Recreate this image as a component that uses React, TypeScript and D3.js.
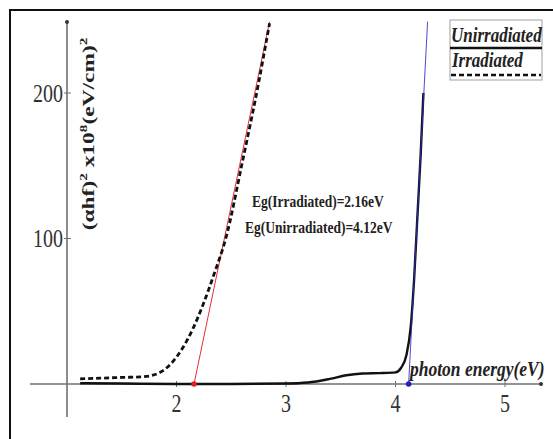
import * as d3 from 'd3'
import { useEffect, useRef } from 'react'

// Irradiated sample (dashed curve)
const irrEnergy = [1.12, 1.3, 1.5, 1.7, 1.85, 1.95, 2.05, 2.15, 2.25, 2.35, 2.45, 2.6, 2.75, 2.85]
const irrValue = [3.5, 4, 4.5, 5, 8, 14, 24, 38, 56, 77, 100, 152, 207, 248]

// Unirradiated sample (solid curve)
const unirrEnergy = [1.12, 1.5, 2.0, 2.5, 3.0, 3.2, 3.4, 3.55, 3.7, 3.85, 4.0, 4.05, 4.1, 4.14, 4.17, 4.2, 4.23, 4.255]
const unirrValue = [0.5, 0.3, 0, 0, 0.3, 1, 3.5, 6, 7.2, 7.5, 8, 11, 20, 40, 72, 115, 158, 200]

// tangent fits: [energy, value]
const irrFit: [number, number][] = [[2.16, 0], [2.85, 249]]
const unirrFit: [number, number][] = [[4.12, 0], [4.293, 249]]

const xTicks = [2, 3, 4, 5]
const yTicks = [100, 200]
const fitLabels = ['Eg(Irradiated)=2.16eV', 'Eg(Unirradiated)=4.12eV']
const legendLabels = ['Unirradiated', 'Irradiated']

const SERIF = '"Liberation Serif", "Times New Roman", serif'

export default function App() {
  const svgRef = useRef<SVGSVGElement>(null)

  useEffect(() => {
    if (!svgRef.current) return
    const svg = d3.select(svgRef.current)
    svg.selectAll('*').remove()

    const width = 553
    const height = 439

    const x = d3.scaleLinear().domain([1, 5]).range([67, 505])
    const y = d3.scaleLinear().domain([0, 248.8]).range([384, 22])

    svg.attr('width', width).attr('height', height)

    svg.append('rect').attr('width', width).attr('height', height).attr('fill', '#fff')

    // outer frame (runs off the picture at right and bottom)
    svg
      .append('rect')
      .attr('x', 10)
      .attr('y', 10)
      .attr('width', 700)
      .attr('height', 600)
      .attr('fill', 'none')
      .attr('stroke', '#111')
      .attr('stroke-width', 2)

    // stretched text helper
    const label = (
      tx: number,
      ty: number,
      txt: string,
      size: number,
      anchor: string,
      opts: { weight?: string; style?: string; sy?: number; fill?: string } = {}
    ) => {
      const g = svg.append('g').attr('transform', `translate(${tx},${ty}) scale(1,${opts.sy ?? 1.25})`)
      return g
        .append('text')
        .attr('text-anchor', anchor)
        .attr('dominant-baseline', 'central')
        .style('font-family', SERIF)
        .style('font-size', `${size}px`)
        .style('font-weight', opts.weight ?? 'normal')
        .style('font-style', opts.style ?? 'normal')
        .attr('fill', opts.fill ?? '#333')
        .text(txt)
    }

    // axes
    const axisColor = '#707070'
    svg
      .append('line')
      .attr('x1', 30)
      .attr('x2', 541)
      .attr('y1', y(0))
      .attr('y2', y(0))
      .attr('stroke', axisColor)
      .attr('stroke-width', 1.6)
    svg.append('circle').attr('cx', 541).attr('cy', y(0)).attr('r', 2).attr('fill', '#333')
    svg
      .append('line')
      .attr('x1', x(1))
      .attr('x2', x(1))
      .attr('y1', 22)
      .attr('y2', 417)
      .attr('stroke', axisColor)
      .attr('stroke-width', 1.6)
    svg.append('circle').attr('cx', x(1)).attr('cy', 22).attr('r', 2).attr('fill', '#333')

    xTicks.forEach(t => {
      svg
        .append('line')
        .attr('x1', x(t))
        .attr('x2', x(t))
        .attr('y1', y(0) - 3)
        .attr('y2', y(0) + 3)
        .attr('stroke', axisColor)
      label(x(t), 403, String(t), 20, 'middle', { sy: 1.3 })
    })
    yTicks.forEach(t => {
      svg
        .append('line')
        .attr('x1', x(1) - 3)
        .attr('x2', x(1) + 4)
        .attr('y1', y(t))
        .attr('y2', y(t))
        .attr('stroke', axisColor)
      label(63, y(t), String(t), 20, 'end', { sy: 1.3 })
    })

    // y axis title
    const yt = svg
      .append('text')
      .attr('transform', 'translate(94,134) rotate(-90) scale(1.38,1)')
      .attr('text-anchor', 'middle')
      .style('font-family', SERIF)
      .style('font-size', '17px')
      .style('font-weight', 'bold')
      .attr('fill', '#222')
    yt.append('tspan').text('(αhf)')
    yt.append('tspan').attr('dy', -7).style('font-size', '11px').text('2')
    yt.append('tspan').attr('dy', 7).text(' x10')
    yt.append('tspan').attr('dy', -7).style('font-size', '11px').text('8')
    yt.append('tspan').attr('dy', 7).text('(eV/cm)')
    yt.append('tspan').attr('dy', -7).style('font-size', '11px').text('2')

    // x axis title
    label(410, 369, 'photon energy(eV)', 17.5, 'start', { weight: 'bold', style: 'italic', sy: 1.15, fill: '#222' })

    const line = d3
      .line<[number, number]>()
      .x(d => x(d[0]))
      .y(d => y(d[1]))
      .curve(d3.curveMonotoneX)

    const unirrPts = unirrEnergy.map((e, i) => [e, unirrValue[i]] as [number, number])
    const irrPts = irrEnergy.map((e, i) => [e, irrValue[i]] as [number, number])

    // tangent fits
    const straight = d3
      .line<[number, number]>()
      .x(d => x(d[0]))
      .y(d => y(d[1]))
    svg
      .append('path')
      .attr('d', straight(irrFit))
      .attr('fill', 'none')
      .attr('stroke', '#e53030')
      .attr('stroke-width', 1)

    // unirradiated curve
    svg
      .append('path')
      .attr('d', line(unirrPts))
      .attr('fill', 'none')
      .attr('stroke', '#111')
      .attr('stroke-width', 2.4)

    svg
      .append('path')
      .attr('d', straight(unirrFit))
      .attr('fill', 'none')
      .attr('stroke', '#2a2ad0')
      .attr('stroke-width', 1)
      .attr('stroke-opacity', 0.85)

    // irradiated curve
    svg
      .append('path')
      .attr('d', line(irrPts))
      .attr('fill', 'none')
      .attr('stroke', '#111')
      .attr('stroke-width', 2.8)
      .attr('stroke-dasharray', '5,3')

    svg.append('circle').attr('cx', x(irrFit[0][0])).attr('cy', y(0)).attr('r', 2.8).attr('fill', '#e02020')
    svg.append('circle').attr('cx', x(unirrFit[0][0])).attr('cy', y(0)).attr('r', 2.8).attr('fill', '#2020c0')

    // band gap annotations
    label(252, 201, fitLabels[0], 13.5, 'start', { weight: 'bold', sy: 1.25, fill: '#222' })
    label(245, 227, fitLabels[1], 13.5, 'start', { weight: 'bold', sy: 1.25, fill: '#222' })

    // legend
    svg
      .append('rect')
      .attr('x', 450)
      .attr('y', 20)
      .attr('width', 92)
      .attr('height', 60)
      .attr('fill', '#fff')
      .attr('stroke', '#888')
      .attr('stroke-width', 0.8)
    label(451, 35, legendLabels[0], 17, 'start', { weight: 'bold', style: 'italic', sy: 1.2, fill: '#222' })
    svg
      .append('line')
      .attr('x1', 450)
      .attr('x2', 542)
      .attr('y1', 48)
      .attr('y2', 48)
      .attr('stroke', '#111')
      .attr('stroke-width', 2.6)
    label(452, 60, legendLabels[1], 17, 'start', { weight: 'bold', style: 'italic', sy: 1.2, fill: '#222' })
    svg
      .append('line')
      .attr('x1', 451)
      .attr('x2', 541)
      .attr('y1', 75)
      .attr('y2', 75)
      .attr('stroke', '#111')
      .attr('stroke-width', 2.6)
      .attr('stroke-dasharray', '5,3')
  }, [])

  return (
    <div style={{ position: 'absolute', left: 0, top: 0 }}>
      <svg ref={svgRef} style={{ display: 'block' }}></svg>
    </div>
  )
}
